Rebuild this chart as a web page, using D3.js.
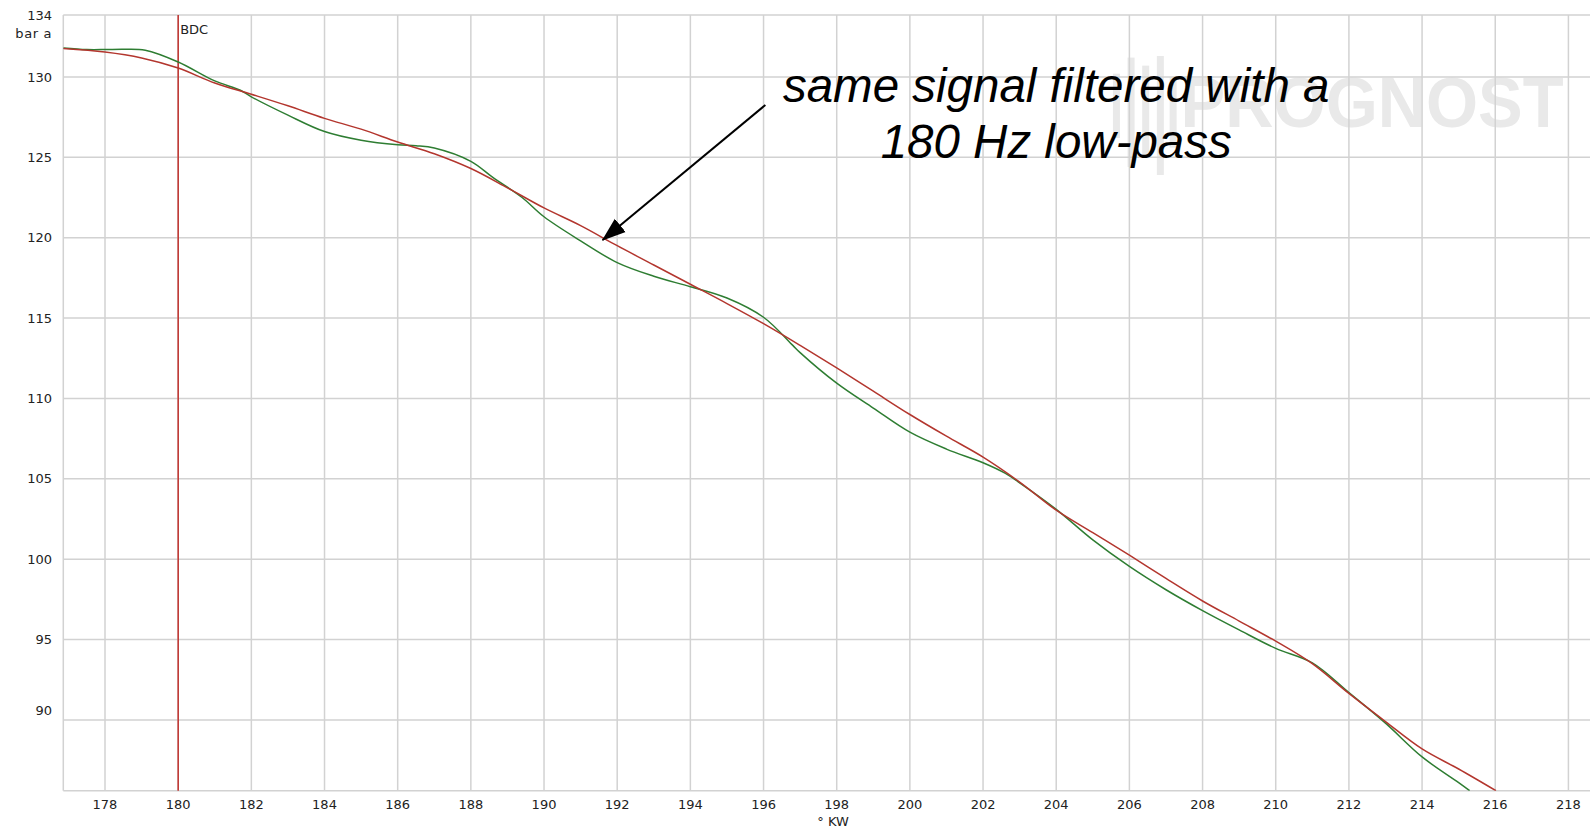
<!DOCTYPE html>
<html>
<head>
<meta charset="utf-8">
<script src="https://cdn.jsdelivr.net/npm/d3@7"></script>
<style>
	html, body { margin: 0; padding: 0; background: #fff; }
	svg { display: block; }
	.tick-label { font-family: "DejaVu Sans", sans-serif; font-size: 13px; fill: #222; }
	.note { font-family: "Liberation Sans", Arial, sans-serif; font-style: italic; font-size: 47.5px; fill: #000; }
</style>
</head>
<body>
<svg id="chart"></svg>
<script>

// crank angle range and pressure range of the plot
var angleMin = 176.86, angleMax = 218.59;
var pressureMin = 85.6, pressureMax = 133.85;

var xTicks = [178, 180, 182, 184, 186, 188, 190, 192, 194, 196, 198, 200, 202, 204, 206, 208, 210, 212, 214, 216, 218];
var yTicks = [90, 95, 100, 105, 110, 115, 120, 125, 130];

var bdcAngle = 180;

// filtered signal (180 Hz low-pass), red
var filteredAngle = [176.86, 178, 179, 180, 181, 182, 183, 184, 185, 186, 187, 188, 189, 190, 191, 192, 193, 194, 195, 196, 197, 198, 199, 200, 201, 202, 203, 204, 205, 206, 207, 208, 209, 210, 211, 212, 213, 214, 215, 216.02];
var filteredPressure = [131.77, 131.55, 131.18, 130.55, 129.62, 128.92, 128.2, 127.42, 126.75, 125.95, 125.22, 124.3, 123.1, 121.85, 120.75, 119.5, 118.3, 117.1, 115.9, 114.65, 113.3, 111.9, 110.45, 109.0, 107.65, 106.35, 104.8, 103.05, 101.65, 100.25, 98.8, 97.4, 96.15, 94.9, 93.5, 91.65, 89.9, 88.2, 86.95, 85.6];

// raw signal, green
var rawAngle = [176.86, 177.5, 178, 178.5, 179.1, 180, 181, 181.7, 182, 183, 184, 185, 186, 186.5, 187, 188, 188.6, 189.4, 190, 191, 192, 193, 194, 195, 196, 196.8, 197, 198, 199, 200, 201, 202, 202.6, 203, 204, 205, 206, 207, 208, 209, 210, 211, 212, 213, 214, 215, 215.3];
var rawPressure = [131.8, 131.7, 131.7, 131.72, 131.66, 130.93, 129.75, 129.17, 128.76, 127.62, 126.6, 126.06, 125.78, 125.72, 125.58, 124.75, 123.75, 122.5, 121.3, 119.8, 118.45, 117.6, 116.95, 116.25, 115.05, 113.3, 112.85, 110.95, 109.4, 107.9, 106.85, 106.0, 105.35, 104.75, 103.1, 101.2, 99.55, 98.1, 96.8, 95.6, 94.45, 93.55, 91.7, 89.8, 87.7, 86.1, 85.6];

// annotation text and arrow, in data units
var noteLines = ['same signal filtered with a', '180 Hz low-pass'];
var noteAt = [204.0, 128.45];
var arrowFrom = [196.05, 128.25];
var arrowTo = [191.6, 119.85];

var width = 1590, height = 830;
var margin = {top: 15, right: 0, bottom: 39.3, left: 63.3};

var svg = d3.select('#chart').attr('width', width).attr('height', height);

var x = d3.scaleLinear()
	.domain([angleMin, angleMax])
	.range([margin.left, width - margin.right]);

var y = d3.scaleLinear()
	.domain([pressureMin, pressureMax])
	.range([height - margin.bottom, margin.top]);

var gridColor = '#d2d2d2';

// watermark behind everything
var wm = svg.append('g').attr('fill', '#e9e9e9');
wm.append('text')
	.attr('x', x(207.4)).attr('y', y(126.9))
	.attr('font-family', '"Liberation Sans Narrow", "Liberation Sans", sans-serif')
	.attr('font-weight', 'bold').attr('font-size', 70)
	.attr('textLength', 383).attr('lengthAdjust', 'spacingAndGlyphs')
	.text('PROGNOST');
var bars = [[205.55, 130.2, 126.2], [205.95, 131.2, 124.4], [206.35, 130.7, 125.0], [206.75, 131.3, 123.9], [207.1, 130.0, 125.6]];
bars.forEach(function(b) {
	wm.append('rect')
		.attr('x', x(b[0])).attr('y', y(b[1]))
		.attr('width', 7).attr('height', y(b[2]) - y(b[1]));
});

// grid
var grid = svg.append('g').attr('stroke', gridColor).attr('stroke-width', 1.5);
grid.selectAll('.vg').data(xTicks).enter().append('line')
	.attr('x1', function(d) { return x(d); }).attr('x2', function(d) { return x(d); })
	.attr('y1', y(pressureMax)).attr('y2', y(pressureMin));
grid.selectAll('.hg').data(yTicks).enter().append('line')
	.attr('x1', x(angleMin)).attr('x2', x(angleMax))
	.attr('y1', function(d) { return y(d); }).attr('y2', function(d) { return y(d); });

// frame: top, left, bottom
grid.append('line').attr('x1', x(angleMin)).attr('x2', x(angleMax)).attr('y1', y(pressureMax)).attr('y2', y(pressureMax));
grid.append('line').attr('x1', x(angleMin)).attr('x2', x(angleMin)).attr('y1', y(pressureMax)).attr('y2', y(pressureMin));
grid.append('line').attr('x1', x(angleMin)).attr('x2', x(angleMax)).attr('y1', y(pressureMin)).attr('y2', y(pressureMin));

// x axis labels
svg.append('g').selectAll('text').data(xTicks).enter().append('text')
	.attr('class', 'tick-label')
	.attr('x', function(d) { return x(d); })
	.attr('y', y(pressureMin) + 18)
	.attr('text-anchor', 'middle')
	.text(function(d) { return d; });

svg.append('text').attr('class', 'tick-label')
	.attr('x', x(197.9)).attr('y', y(pressureMin) + 35.5)
	.attr('text-anchor', 'middle')
	.text('° KW');

// y axis labels, lowest one sits a bit above its line
svg.append('g').selectAll('text').data(yTicks).enter().append('text')
	.attr('class', 'tick-label')
	.attr('x', 52)
	.attr('y', function(d, i) { return y(d) + (i === 0 ? -10 : 0); })
	.attr('dy', '0.36em')
	.attr('text-anchor', 'end')
	.text(function(d) { return d; });

svg.append('text').attr('class', 'tick-label')
	.attr('x', 52).attr('y', y(pressureMax)).attr('dy', '0.36em')
	.attr('text-anchor', 'end')
	.text(d3.format('.0f')(pressureMax));

svg.append('text').attr('class', 'tick-label')
	.attr('x', 52).attr('y', y(pressureMax) + 18).attr('dy', '0.36em')
	.attr('text-anchor', 'end')
	.attr('letter-spacing', 0.6)
	.text('bar a');

// BDC marker
svg.append('line')
	.attr('x1', x(bdcAngle)).attr('x2', x(bdcAngle))
	.attr('y1', y(pressureMax)).attr('y2', y(pressureMin))
	.attr('stroke', '#c0302c').attr('stroke-width', 1.5);
svg.append('text').attr('class', 'tick-label')
	.attr('x', x(bdcAngle) + 2).attr('y', y(pressureMax) + 14).attr('dy', '0.36em')
	.attr('font-size', 12)
	.text('BDC');

// clip lines to plot
svg.append('clipPath').attr('id', 'plot-clip').append('rect')
	.attr('x', x(angleMin)).attr('y', y(pressureMax))
	.attr('width', x(angleMax) - x(angleMin)).attr('height', y(pressureMin) - y(pressureMax));

var line = d3.line()
	.x(function(d) { return x(d[0]); })
	.y(function(d) { return y(d[1]); })
	.curve(d3.curveCatmullRom.alpha(0.5));

var rawData = rawAngle.map(function(a, i) { return [a, rawPressure[i]]; });
var filteredData = filteredAngle.map(function(a, i) { return [a, filteredPressure[i]]; });

var lines = svg.append('g').attr('clip-path', 'url(#plot-clip)').attr('fill', 'none');
lines.append('path').datum(rawData)
	.attr('d', line).attr('stroke', '#2e7d32').attr('stroke-width', 1.5);
lines.append('path').datum(filteredData)
	.attr('d', line).attr('stroke', '#b3362e').attr('stroke-width', 1.5);

// annotation
svg.append('defs').append('marker')
	.attr('id', 'arrowhead')
	.attr('markerUnits', 'userSpaceOnUse')
	.attr('viewBox', '0 -9 24 18')
	.attr('refX', 23).attr('refY', 0)
	.attr('markerWidth', 24).attr('markerHeight', 18)
	.attr('orient', 'auto')
	.append('path').attr('d', 'M0,-8.5L24,0L0,8.5Z').attr('fill', '#000');

svg.append('line')
	.attr('x1', x(arrowFrom[0])).attr('y1', y(arrowFrom[1]))
	.attr('x2', x(arrowTo[0])).attr('y2', y(arrowTo[1]))
	.attr('stroke', '#000').attr('stroke-width', 2)
	.attr('marker-end', 'url(#arrowhead)');

svg.append('g').selectAll('text').data(noteLines).enter().append('text')
	.attr('class', 'note')
	.attr('x', x(noteAt[0]))
	.attr('y', function(d, i) { return y(noteAt[1]) + i * 56.6; })
	.attr('text-anchor', 'middle')
	.text(function(d) { return d; });

</script>
</body>
</html>
